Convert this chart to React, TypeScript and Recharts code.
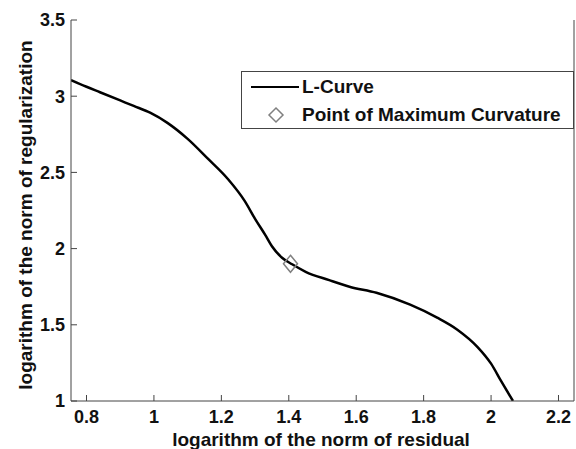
import React from 'react';
import { ComposedChart, Line, Scatter, XAxis, YAxis, Legend } from 'recharts';

const curveX = [0.754, 0.8, 0.84, 0.9, 0.94, 0.99, 1.04, 1.1, 1.16, 1.22, 1.27, 1.3, 1.33, 1.35, 1.38, 1.41, 1.45, 1.52, 1.58, 1.66, 1.76, 1.84, 1.9, 1.96, 2.0, 2.03, 2.065];
const curveY = [3.106, 3.062, 3.026, 2.972, 2.936, 2.89, 2.825, 2.72, 2.59, 2.455, 2.31, 2.195, 2.09, 2.015, 1.94, 1.897, 1.848, 1.793, 1.75, 1.71, 1.632, 1.547, 1.468, 1.354, 1.245, 1.13, 1.0];
const maxCurvX = [1.405];
const maxCurvY = [1.9];
const xTicks = [0.8, 1, 1.2, 1.4, 1.6, 1.8, 2, 2.2];
const yTicks = [1, 1.5, 2, 2.5, 3, 3.5];

const curve = curveX.map((x, i) => ({ x, y: curveY[i] }));
const maxPoint = maxCurvX.map((x, i) => ({ x, y: maxCurvY[i] }));

const FONT = 'Liberation Sans, Arial, Helvetica, sans-serif';
const AXIS = '#444';

const Diamond = (props: any) => {
  const { cx, cy } = props;
  if (cx == null || cy == null) return null;
  const w = 7, h = 8.5;
  return <path d={`M${cx},${cy - h}L${cx + w},${cy}L${cx},${cy + h}L${cx - w},${cy}Z`} fill="none" stroke="#808080" strokeWidth={1.5} />;
};

const LegendBox = (props: any) => {
  const payload = props.payload || [];
  return (
    <div style={{ position: 'absolute', left: 0, top: 0, width: 333, height: 58, boxSizing: 'border-box', border: `1px solid ${AXIS}`, background: '#fff', fontFamily: FONT, fontSize: 19, fontWeight: 'bold', color: '#111' }}>
      {payload.map((e: any, i: number) => (
        <div key={i} style={{ position: 'absolute', left: 0, top: i === 0 ? 3 : 31, height: 24, display: 'flex', alignItems: 'center', whiteSpace: 'nowrap' }}>
          <svg width={60} height={24} style={{ display: 'block' }}>
            {e.type === 'line' ? (
              <line x1={9} x2={57} y1={12} y2={12} stroke="#000" strokeWidth={2} />
            ) : (
              <path d="M34,5L41,12L34,19L27,12Z" fill="none" stroke="#808080" strokeWidth={1.5} />
            )}
          </svg>
          <span>{e.value}</span>
        </div>
      ))}
    </div>
  );
};

const YLabel = () => {
  const x = 32;
  const y = 215;
  return (
    <text x={x} y={y} transform={`rotate(-90, ${x}, ${y})`} textAnchor="middle" fontFamily={FONT} fontSize={19} fontWeight="bold" fill="#111">
      logarithm of the norm of regularization
    </text>
  );
};

const XLabel = () => (
  <text x={321} y={446} textAnchor="middle" fontFamily={FONT} fontSize={19} fontWeight="bold" fill="#111">
    logarithm of the norm of residual
  </text>
);

const tickStyle = { fill: '#111', fontSize: 18, fontFamily: FONT, fontWeight: 'bold' as const };

export default function App() {
  return (
    <div style={{ position: 'absolute', left: 0, top: 0, width: 576, height: 449, background: '#fff' }}>
      <ComposedChart width={576} height={449} margin={{ top: 20, right: 0, bottom: 0, left: 0 }}>
        <XAxis
          dataKey="x"
          type="number"
          domain={[0.754, 2.246]}
          ticks={xTicks}
          allowDataOverflow
          height={48}
          stroke={AXIS}
          tickSize={-6}
          tickMargin={15}
          tick={tickStyle}
          tickFormatter={(v: number) => String(v)}
          label={<XLabel />}
        />
        <XAxis
          xAxisId="top"
          orientation="top"
          dataKey="x"
          type="number"
          domain={[0.754, 2.246]}
          ticks={xTicks}
          allowDataOverflow
          height={0}
          stroke={AXIS}
          tickSize={-6}
          tick={false}
        />
        <YAxis
          type="number"
          domain={[1, 3.5]}
          ticks={yTicks}
          allowDataOverflow
          width={71}
          stroke={AXIS}
          tickSize={-6}
          tickMargin={12}
          tick={tickStyle}
          tickFormatter={(v: number) => String(v)}
          label={<YLabel />}
        />
        <YAxis
          yAxisId="right"
          orientation="right"
          type="number"
          domain={[1, 3.5]}
          ticks={yTicks}
          allowDataOverflow
          width={2}
          stroke={AXIS}
          tickSize={-6}
          tick={false}
        />
        <Line
          data={curve}
          dataKey="y"
          name="L-Curve"
          type="monotoneX"
          stroke="#000"
          strokeWidth={2.5}
          dot={false}
          activeDot={false}
          legendType="line"
          isAnimationActive={false}
        />
        <Scatter
          data={maxPoint}
          dataKey="y"
          name="Point of Maximum Curvature"
          shape={<Diamond />}
          legendType="diamond"
          isAnimationActive={false}
        />
        <Legend
          content={<LegendBox />}
          wrapperStyle={{ position: 'absolute', left: 241, top: 71, width: 0, height: 0, overflow: 'visible' }}
        />
      </ComposedChart>
    </div>
  );
}
